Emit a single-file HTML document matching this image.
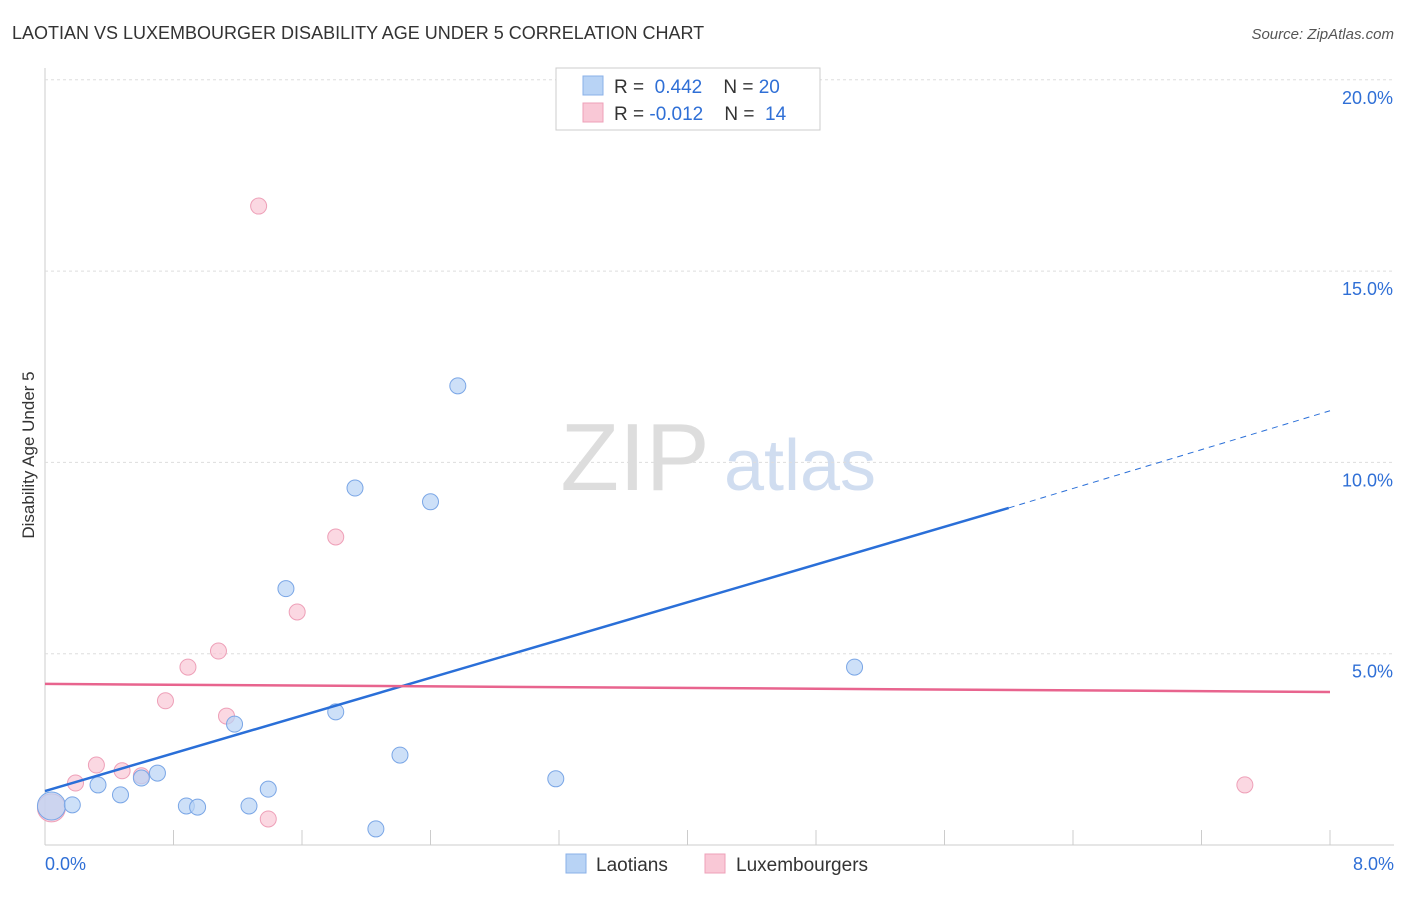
<!DOCTYPE html>
<html><head><meta charset="utf-8"><style>
body{margin:0;background:#fff;font-family:"Liberation Sans",sans-serif}
svg text{font-family:"Liberation Sans",sans-serif}
</style></head><body>
<svg id="c" width="1406" height="892">
<text x="12" y="39" font-size="18" fill="#333">LAOTIAN VS LUXEMBOURGER DISABILITY AGE UNDER 5 CORRELATION CHART</text>
<text x="1394" y="39" font-size="15" fill="#555" text-anchor="end" font-style="italic">Source: ZipAtlas.com</text>
<text x="34" y="455" font-size="17" fill="#333" text-anchor="middle" transform="rotate(-90 34 455)">Disability Age Under 5</text>
<g><text x="635" y="490" font-size="96" fill="#ddd" font-family="Liberation Serif" text-anchor="middle">ZIP</text><text x="800" y="490" font-size="72" fill="#d0ddf0" text-anchor="middle">atlas</text></g>
<g id="grid"></g><g id="marks"></g>
<g>
<rect x="556" y="68" width="264" height="62" fill="#fff" stroke="#ccc"/>
<rect x="583" y="76" width="20" height="19" fill="#b8d3f5" stroke="#8ab0e8"/>
<rect x="583" y="103" width="20" height="19" fill="#f9c8d6" stroke="#eea0b8"/>
<text x="614" y="93" font-size="19" fill="#333">R = <tspan fill="#2f6fd6">&#160;0.442</tspan>&#160;&#160;&#160; N = <tspan fill="#2f6fd6">20</tspan></text>
<text x="614" y="120" font-size="19" fill="#333">R = <tspan fill="#2f6fd6">-0.012</tspan>&#160;&#160;&#160; N = <tspan fill="#2f6fd6">&#160;14</tspan></text>
</g>
<g>
<rect x="566" y="854" width="20" height="19" fill="#b8d3f5" stroke="#8ab0e8"/>
<text x="596" y="871" font-size="19" fill="#333">Laotians</text>
<rect x="705" y="854" width="20" height="19" fill="#f9c8d6" stroke="#eea0b8"/>
<text x="736" y="871" font-size="19" fill="#333">Luxembourgers</text>
</g>
</svg>
<script>
const yTicks=[5,10,15,20];
const yTickLabels=["5.0%","10.0%","15.0%","20.0%"];
const xTickLabels=["0.0%","8.0%"];
const laoX=[0.04,0.17,0.33,0.47,0.6,0.7,0.88,0.95,1.18,1.27,1.39,1.5,1.81,1.93,2.06,2.21,2.4,2.57,3.18,5.04];
const laoY=[1.02,1.05,1.57,1.31,1.75,1.88,1.02,0.99,3.16,1.02,1.46,6.7,3.48,9.33,0.42,2.35,8.97,12.0,1.73,4.65];
const luxX=[0.04,0.19,0.32,0.48,0.6,0.75,0.89,1.08,1.13,1.33,1.39,1.57,1.81,7.47];
const luxY=[0.97,1.62,2.09,1.94,1.81,3.77,4.65,5.07,3.37,16.7,0.68,6.09,8.05,1.57];
const blueLine=[[0,1.41],[6.0,8.81],[8,11.35]];
const pinkLine=[[0,4.21],[8,4.0]];
const sx=v=>45+v/8*1285, sy=v=>845-v/5*191.3;
const NS="http://www.w3.org/2000/svg";
const g=document.getElementById('grid'),m=document.getElementById('marks');
function mk(p,tag,a){const e=document.createElementNS(NS,tag);for(const k in a)e.setAttribute(k,a[k]);p.appendChild(e);return e;}
let ax=mk(g,'line',{x1:45,y1:68,x2:45,y2:845,stroke:'#ccc'});


let bx=mk(g,'line',{x1:45,y1:845,x2:1394,y2:845,stroke:'#ccc'});


yTicks.forEach((t,i)=>{
 let l=mk(g,'line',{x1:45,y1:sy(t),x2:1394,y2:sy(t),stroke:'#ddd','stroke-dasharray':'3,3'});
 
 
 let tx=mk(g,'text',{x:1393,y:sy(t)+24,'font-size':18,fill:'#2f6fd6','text-anchor':'end'});tx.textContent=yTickLabels[i];
 
 
});
for(let i=1;i<=10;i++){let x=45+i*128.5;let t=mk(g,'line',{x1:x,y1:830,x2:x,y2:845,stroke:'#ccc'});
 
 }
[[0,'start',45],[8,'end',1394]].forEach((d,i)=>{let t=mk(g,'text',{x:d[2],y:870,'font-size':18,fill:'#2f6fd6','text-anchor':d[1]});t.textContent=xTickLabels[i];
 
 });
function pts(X,Y,f,s,name){X.forEach((x,i)=>{const big=i==0;let c=mk(m,'circle',{cx:sx(x),cy:sy(Y[i]),r:big?14:8,fill:f,'fill-opacity':0.7,stroke:s});
 
 });}
pts(luxX,luxY,'#f9c8d6','#eea0b8','luxembourger-point');
pts(laoX,laoY,'#b8d3f5','#7aa6e6','laotian-point');
let bl=mk(m,'line',{x1:sx(blueLine[0][0]),y1:sy(blueLine[0][1]),x2:sx(blueLine[1][0]),y2:sy(blueLine[1][1]),stroke:'#2a6fd8','stroke-width':2.5});


let bd=mk(m,'line',{x1:sx(blueLine[1][0]),y1:sy(blueLine[1][1]),x2:sx(blueLine[2][0]),y2:sy(blueLine[2][1]),stroke:'#2a6fd8','stroke-width':1,'stroke-dasharray':'6,5'});


let pl=mk(m,'line',{x1:sx(pinkLine[0][0]),y1:sy(pinkLine[0][1]),x2:sx(pinkLine[1][0]),y2:sy(pinkLine[1][1]),stroke:'#e8648e','stroke-width':2.5});


</script>
</body></html>
